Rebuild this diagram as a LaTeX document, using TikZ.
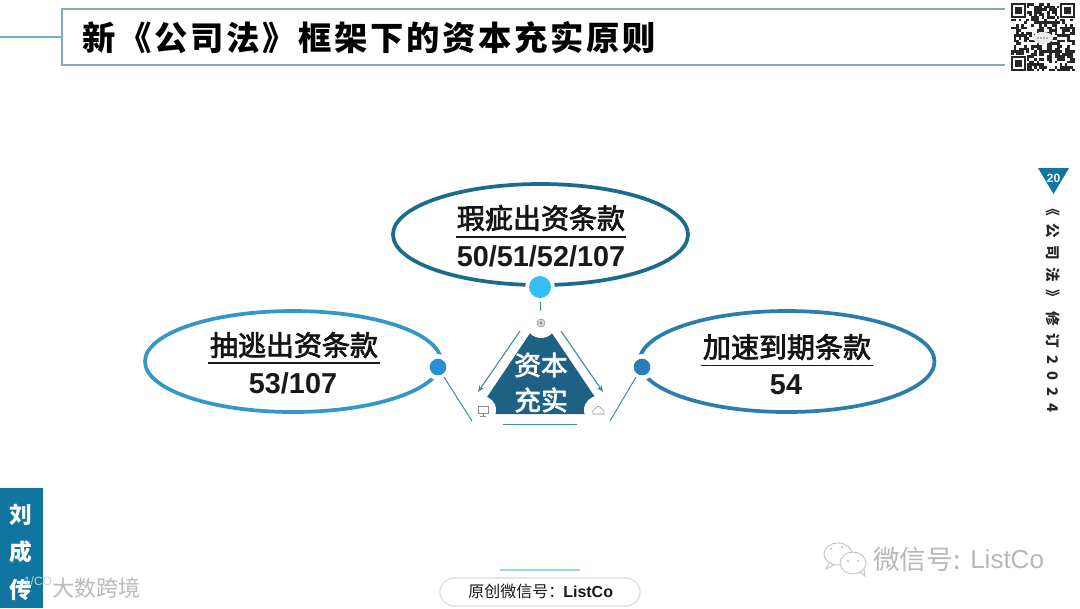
\documentclass[tikz,border=0pt]{standalone}
\usepackage{fontspec}
\setmainfont{Liberation Sans}
\newfontfamily\cjk{Noto Sans CJK SC}
\newfontfamily\cjkm[FakeBold=2.5]{Noto Sans CJK SC}
\newfontfamily\cjktitle[LetterSpace=8]{Noto Sans CJK SC}
\newfontfamily\cjkside[LetterSpace=50]{Noto Sans CJK SC}
\newcommand{\fs}[1]{\fontsize{#1}{#1}\selectfont}
\definecolor{frameblue}{HTML}{7FA9BF}
\definecolor{darkblue}{HTML}{1F6085}
\definecolor{barblue}{HTML}{11769F}
\definecolor{teal}{HTML}{3F8FA5}
\definecolor{ovaltop}{HTML}{1C6A8C}
\definecolor{ovalleft}{HTML}{3597C9}
\definecolor{ovalright}{HTML}{2C7DAD}
\definecolor{dottop}{HTML}{35BEF8}
\definecolor{dotleft}{HTML}{2590D5}
\definecolor{dotright}{HTML}{2A7DB8}
\definecolor{softline}{HTML}{9FD3DF}
\usetikzlibrary{arrows.meta,calc}
\tikzset{
  x=0.75pt,y=-0.75pt,
  frameline/.style={draw=frameblue,line width=0.9pt},
  thinlink/.style={draw=teal,line width=0.75pt},
  arrowlink/.style={draw=teal,line width=0.85pt,-{Stealth[length=5pt,width=4pt]}},
  oval/.style={line width=2.8pt},
  head/.style={font=\cjkm\fs{21},text=black!92,inner sep=0pt},
  nums/.style={font=\bfseries\fs{21.6},text=black!90,inner sep=0pt},
  rule/.style={draw=black!90,line width=1.1pt},
  halo/.style={circle,fill=white,inner sep=0pt},
  dotn/.style={circle,inner sep=0pt},
  hub/.style={circle,fill=white,inner sep=0pt,minimum size=21pt},
  icon/.style={draw=black!45,line width=0.4pt},
}
\begin{document}
\begin{tikzpicture}
\useasboundingbox[fill=white] (0,0) rectangle (1080,608);
% title frame
\coordinate (fa) at (1005,9); \coordinate (fb) at (62,9); \coordinate (fc) at (62,65); \coordinate (fd) at (1005,65);
\coordinate (fl) at (0,37); \coordinate (fm) at (62,37);
\draw[frameline] (fa) -- (fb) -- (fc) -- (fd);
\draw[frameline] (fl) -- (fm);
\node[anchor=west,inner sep=0pt,font=\cjktitle\bfseries\fs{25},text=black] (title) at (82,38) {新《公司法》框架下的资本充实原则};
% QR
\pgfmathsetseed{11}
\foreach \r in {0,...,25}{\foreach \c in {0,...,24}{%
  \pgfmathparse{rnd<0.52?1:0}%
  \ifnum\pgfmathresult=1
    \fill[black!85] ({1011+\c*2.56},{3+\r*2.62}) rectangle ++(2.7,2.75);
  \fi}}
\foreach \qx/\qy in {1011/3,1060/3,1011/56}{%
  \fill[white] ({\qx-1},{\qy-1}) rectangle ++(17,17);
  \fill[black!85] (\qx,\qy) rectangle ++(15,15);
  \fill[white] ({\qx+2.2},{\qy+2.2}) rectangle ++(10.6,10.6);
  \fill[black!85] ({\qx+4.4},{\qy+4.4}) rectangle ++(6.2,6.2);
}
\fill[white!92!black] (1043,38) ellipse [x radius=10,y radius=6];
\foreach \k in {-5,-2,1,4}{\fill[black!55] ({1043+\k},38) circle (0.9);}
% ovals
\draw[oval,ovaltop] (540.5,234.5) ellipse [x radius=147.5,y radius=50.5];
\draw[oval,ovalleft] (293,361.5) ellipse [x radius=148,y radius=50.5];
\draw[oval,ovalright] (787,361.5) ellipse [x radius=147.5,y radius=50.5];
% halos and dots
\node[halo,minimum size=22pt] at (540,287) {};
\node[halo,minimum size=19.5pt] at (438,367) {};
\node[halo,minimum size=19.5pt] at (642,367) {};
\node[dotn,fill=dottop,minimum size=16.5pt] (dotT) at (540,287) {};
\node[dotn,fill=dotleft,minimum size=12.5pt] (dotL) at (438,367) {};
\node[dotn,fill=dotright,minimum size=12.5pt] (dotR) at (642,367) {};
% labels
\node[head] (t1) at (541,218) {瑕疵出资条款};
\coordinate (t1a) at (456,237); \coordinate (t1b) at (626,237);
\draw[rule] (t1a) -- (t1b);
\node[nums] (n1) at (541,256) {50/51/52/107};
\node[head] (t2) at (294,345) {抽逃出资条款};
\coordinate (t2a) at (208,363); \coordinate (t2b) at (380,363);
\draw[rule] (t2a) -- (t2b);
\node[nums] (n2) at (293,383) {53/107};
\node[head] (t3) at (787,347) {加速到期条款};
\coordinate (t3a) at (701,365.5); \coordinate (t3b) at (873,365.5);
\draw[rule] (t3a) -- (t3b);
\node[nums] (n3) at (786,385) {54};
% triangle
\fill[darkblue] (541,317) -- (475.6,414) -- (606.4,414) -- cycle;
\node[hub,minimum size=22.5pt] (hT) at (541,323) {};
\node[hub] (hL) at (482,410) {};
\node[hub] (hR) at (598,410) {};
\node[inner sep=0pt,font=\cjkm\fs{20},text=white] (c1) at (541,365) {资本};
\node[inner sep=0pt,font=\cjkm\fs{20},text=white] (c2) at (541,400) {充实};
% icons
\draw[icon,fill=black!15] (hT.center) circle (4);
\fill[black!45] (hT.center) circle (1.6);
\draw[icon] (478,406) rectangle (488,413); \draw[icon] (483,413) -- (483,416) (480,416) -- (486,416);
\draw[icon] (593,414) .. controls (591,409) and (596,409) .. (598,406) .. controls (601,408) and (605,410) .. (604,414) -- cycle;
% connectors
\coordinate (a1s) at (520,331); \coordinate (a1e) at (478,392);
\coordinate (a2s) at (561,331); \coordinate (a2e) at (603,392);
\coordinate (l1) at (540,302); \coordinate (l2) at (540,311);
\coordinate (l3) at (444,377); \coordinate (l4) at (472,421);
\coordinate (l5) at (636,377); \coordinate (l6) at (610,421);
\coordinate (l7) at (503,424); \coordinate (l8) at (577,424);
\draw[arrowlink] (a1s) -- (a1e);
\draw[arrowlink] (a2s) -- (a2e);
\draw[thinlink] (l1) -- (l2);
\draw[thinlink] (l3) -- (l4);
\draw[thinlink] (l5) -- (l6);
\draw[thinlink] (l7) -- (l8);
% side marker
\fill[barblue] (1038,168) -- (1069,168) -- (1053.5,194) -- cycle;
\node[inner sep=0pt,font=\bfseries\fs{9},text=white] (pg) at (1053.5,178.5) {20};
\node[inner sep=0pt,rotate=-90,font=\cjkside\bfseries\fs{11},text=black!85] (side) at (1053,307) {《公司法》修订2024};
% left bar
\fill[barblue] (0,488) rectangle (43,608);
\node[inner sep=0pt,font=\cjk\bfseries\fs{17},text=white] (n1a) at (21,515) {刘};
\node[inner sep=0pt,font=\cjk\bfseries\fs{17},text=white] (n1b) at (21,552) {成};
\node[inner sep=0pt,font=\cjk\bfseries\fs{17},text=white] (n1c) at (21,590) {传};
% watermark
\node[inner sep=0pt,font=\fs{9},text=white!80!black] (w0) at (38,581) {1/CO};
\node[inner sep=0pt,font=\cjk\fs{16.5},text=black!27] (w1) at (96,588) {大数跨境};
% wechat watermark
\draw[black!25,line width=0.6pt,fill=white] (838,554) ellipse [x radius=14,y radius=11];
\draw[black!25,line width=0.6pt] (829,563) -- (826,569) -- (834,565);
\draw[black!25,line width=0.6pt,fill=white] (853,563) ellipse [x radius=13,y radius=11];
\draw[black!25,line width=0.6pt] (860,572) -- (865,576) -- (864,569);
\foreach \dx/\dy in {831/549,842/547,848/561,858/561}{\fill[black!25] (\dx,\dy) circle (1.2);}
\node[anchor=west,inner sep=0pt,font=\cjk\fs{20},text=black!28] (w2) at (873,559) {微信号:};
\node[anchor=west,inner sep=0pt,font=\fs{19.5},text=black!28] (w3) at (970,559) {ListCo};
% bottom
\coordinate (b1) at (500,570); \coordinate (b2) at (580,570);
\draw[draw=softline,line width=0.9pt] (b1) -- (b2);
\draw[draw=black!14,line width=0.9pt,fill=white,rounded corners=10.5pt] (440,578) rectangle (640,606);
\node[anchor=west,inner sep=0pt,font=\cjk\fs{12},text=black!90] (o1) at (468,591.5) {原创微信号：};
\node[anchor=west,inner sep=0pt,font=\bfseries\fs{12},text=black!90] (o2) at (563,591.5) {ListCo};
\end{tikzpicture}
\end{document}
